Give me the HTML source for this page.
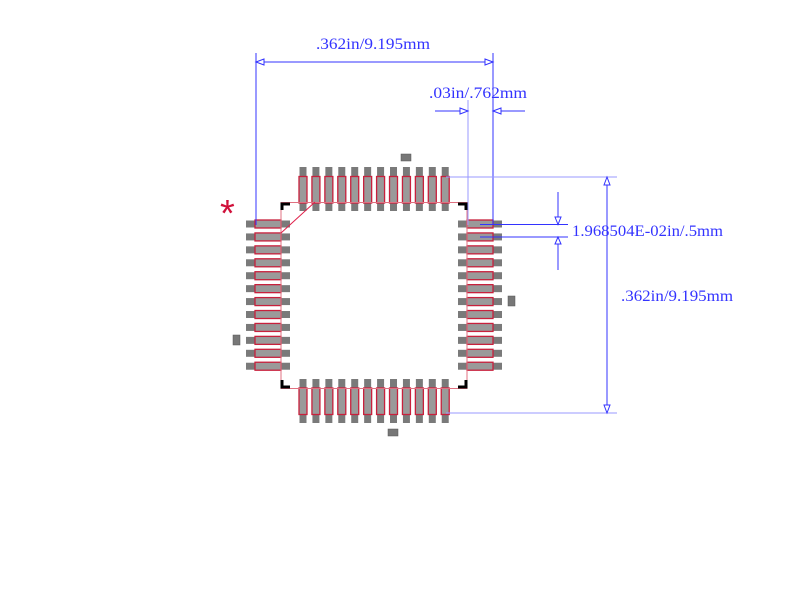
<!DOCTYPE html>
<html><head><meta charset="utf-8"><style>
html,body{margin:0;padding:0;background:#fff;width:800px;height:610px;overflow:hidden}
svg{display:block}
text{font-family:"Liberation Serif",serif;fill:#3333ff;font-size:16px}
</style></head><body>
<svg id="s" width="800" height="610" xmlns="http://www.w3.org/2000/svg">
<g id="pads"></g>
<rect x="281" y="202.5" width="186" height="186" fill="none" stroke="#e07080" stroke-width="1"/>
<line x1="281" y1="233" x2="315" y2="202" stroke="#e0204a" stroke-width="1"/>
<g stroke="#000" stroke-width="3" fill="none">
<polyline points="282,210 282,204 290,204"/>
<polyline points="458,204 466,204 466,210"/>
<polyline points="282,380 282,387 290,387"/>
<polyline points="458,387 466,387 466,380"/>
</g>
<g fill="#777" stroke="#555" stroke-width="0.5">
<rect x="401" y="154" width="10" height="7"/>
<rect x="508" y="296" width="7" height="10"/>
<rect x="233" y="335" width="7" height="10"/>
<rect x="388" y="429" width="10" height="7"/>
</g>
<text x="220" y="226" style="fill:#d0103a;font-size:38px;font-family:'Liberation Sans',sans-serif">*</text>
<g stroke="#3333ff" stroke-width="1" fill="none">
<line x1="256" y1="53" x2="256" y2="225"/>
<line x1="493" y1="53" x2="493" y2="225"/>
<line x1="256" y1="62" x2="493" y2="62"/>
<polygon points="256,62 264,59 264,65" fill="#fff"/>
<polygon points="493,62 485,59 485,65" fill="#fff"/>
<line x1="468" y1="100" x2="468" y2="225" stroke="#9999ff"/>
<line x1="435" y1="111" x2="468" y2="111"/>
<line x1="493" y1="111" x2="525" y2="111"/>
<polygon points="468,111 460,108 460,114" fill="#fff"/>
<polygon points="493,111 501,108 501,114" fill="#fff"/>
<line x1="446" y1="177" x2="617" y2="177" stroke="#9999ff"/>
<line x1="446" y1="413" x2="617" y2="413" stroke="#9999ff"/>
<line x1="607" y1="177" x2="607" y2="413"/>
<polygon points="607,177 604,185 610,185" fill="#fff"/>
<polygon points="607,413 604,405 610,405" fill="#fff"/>
<line x1="480" y1="224.5" x2="568" y2="224.5"/>
<line x1="480" y1="237" x2="568" y2="237"/>
<line x1="558" y1="192" x2="558" y2="224.5"/>
<line x1="558" y1="237" x2="558" y2="270"/>
<polygon points="558,224.5 555,217 561,217" fill="#fff"/>
<polygon points="558,237 555,244 561,244" fill="#fff"/>
</g>
<text x="316" y="49" textLength="114" lengthAdjust="spacingAndGlyphs">.362in/9.195mm</text>
<text x="429" y="98" textLength="98" lengthAdjust="spacingAndGlyphs">.03in/.762mm</text>
<text x="572" y="236" textLength="151" lengthAdjust="spacingAndGlyphs">1.968504E-02in/.5mm</text>
<text x="621" y="301" textLength="112" lengthAdjust="spacingAndGlyphs">.362in/9.195mm</text>
</svg>
<script>
var g=document.getElementById('pads'),h='';
function r(x,y,w,hh,f,s){h+='<rect x="'+x+'" y="'+y+'" width="'+w+'" height="'+hh+'" fill="'+f+'"'+(s?' stroke="'+s+'" stroke-width="1.3"':'')+'/>';}
var p=12.93;
for(var i=0;i<12;i++){
 var c=224+p*i;
 r(246,c-3.5,44,7,'#7a7a7a');r(255,c-4,26,8,'#9a9a9a','#c8203c');
 r(458,c-3.5,44,7,'#7a7a7a');r(467,c-4,26,8,'#9a9a9a','#c8203c');
 var x=303+p*i;
 r(x-3.5,167,7,44,'#7a7a7a');r(x-4,176.5,8,26.5,'#9a9a9a','#c8203c');
 r(x-3.5,379,7,44,'#7a7a7a');r(x-4,388,8,26.5,'#9a9a9a','#c8203c');
}
g.innerHTML=h;
</script>
</body></html>
